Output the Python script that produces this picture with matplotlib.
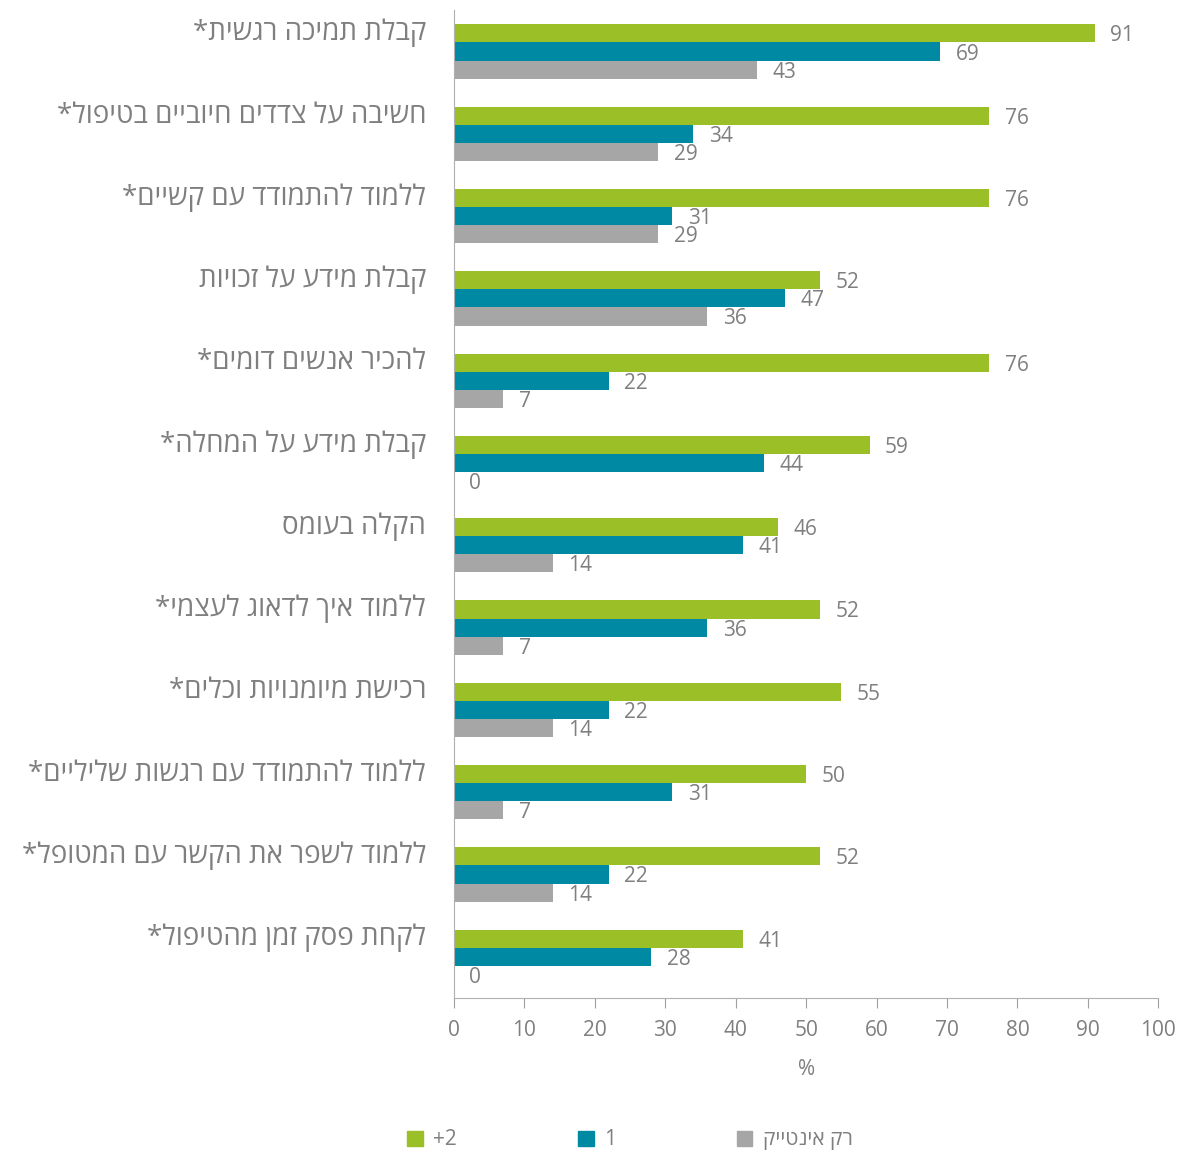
import numpy as np
from matplotlib import pyplot as plt
from matplotlib.patches import Patch

categories = [
    "קבלת תמיכה רגשית*",
    "חשיבה על צדדים חיוביים בטיפול*",
    "ללמוד להתמודד עם קשיים*",
    "קבלת מידע על זכויות",
    "להכיר אנשים דומים*",
    "קבלת מידע על המחלה*",
    "הקלה בעומס",
    "ללמוד איך לדאוג לעצמי*",
    "רכישת מיומנויות וכלים*",
    "ללמוד להתמודד עם רגשות שליליים*",
    "ללמוד לשפר את הקשר עם המטופל*",
    "לקחת פסק זמן מהטיפול*",
]
two_plus = [91, 76, 76, 52, 76, 59, 46, 52, 55, 50, 52, 41]
one = [69, 34, 31, 47, 22, 44, 41, 36, 22, 31, 22, 28]
intake_only = [43, 29, 29, 36, 7, 0, 14, 7, 14, 7, 14, 0]
series_names = ["+2", "1", "רק אינטייק"]
x_ticks = list(range(0, 101, 10))

colors = ["#9bbf26", "#0089a3", "#a6a6a6"]
text_color = "#7f7f7f"

plt.rcParams['font.family'] = ['Open Sans', 'DejaVu Sans']

def rtl(s):
    # matplotlib has no bidi support, so reverse the Hebrew for display
    return s[::-1]

fig = plt.figure(figsize=(11.82, 11.55), dpi=100)
ax = fig.add_axes([0.384, 0.136, 0.596, 0.855])

y = np.arange(len(categories))
h = 0.22
for k, (vals, col) in enumerate(zip([two_plus, one, intake_only], colors)):
    pos = y + (k - 1) * h
    ax.barh(pos, vals, height=h, color=col)
    for p, v in zip(pos, vals):
        ax.text(v + 2.2, p + 0.03, str(v), ha='left', va='center',
                fontsize=15, color=text_color)

ax.set_ylim(len(categories) - 0.5, -0.5)
ax.set_xlim(0, 100)
ax.set_xticks(x_ticks)
ax.set_yticks(y - 0.27)
ax.set_yticklabels([rtl(c) for c in categories], fontsize=20, color=text_color)
ax.tick_params(axis='y', length=0, pad=20)
ax.tick_params(axis='x', length=7, color="#a0a0a0", labelsize=15,
               labelcolor=text_color, pad=9)
ax.set_xlabel("%", fontsize=15, color=text_color, labelpad=13)

for side in ['top', 'right']:
    ax.spines[side].set_visible(False)
for side in ['left', 'bottom']:
    ax.spines[side].set_color("#b0b0b0")

handles = [Patch(color=c) for c in colors]
labels = [series_names[0], series_names[1], rtl(series_names[2])]
leg = fig.legend(handles, labels, loc='center', bbox_to_anchor=(0.533, 0.013),
                 ncol=3, frameon=False, fontsize=15, handlelength=0.75,
                 handleheight=0.75, handletextpad=0.5, columnspacing=5.8)
for t in leg.get_texts():
    t.set_color(text_color)

fig.savefig("out.png", dpi=100)
